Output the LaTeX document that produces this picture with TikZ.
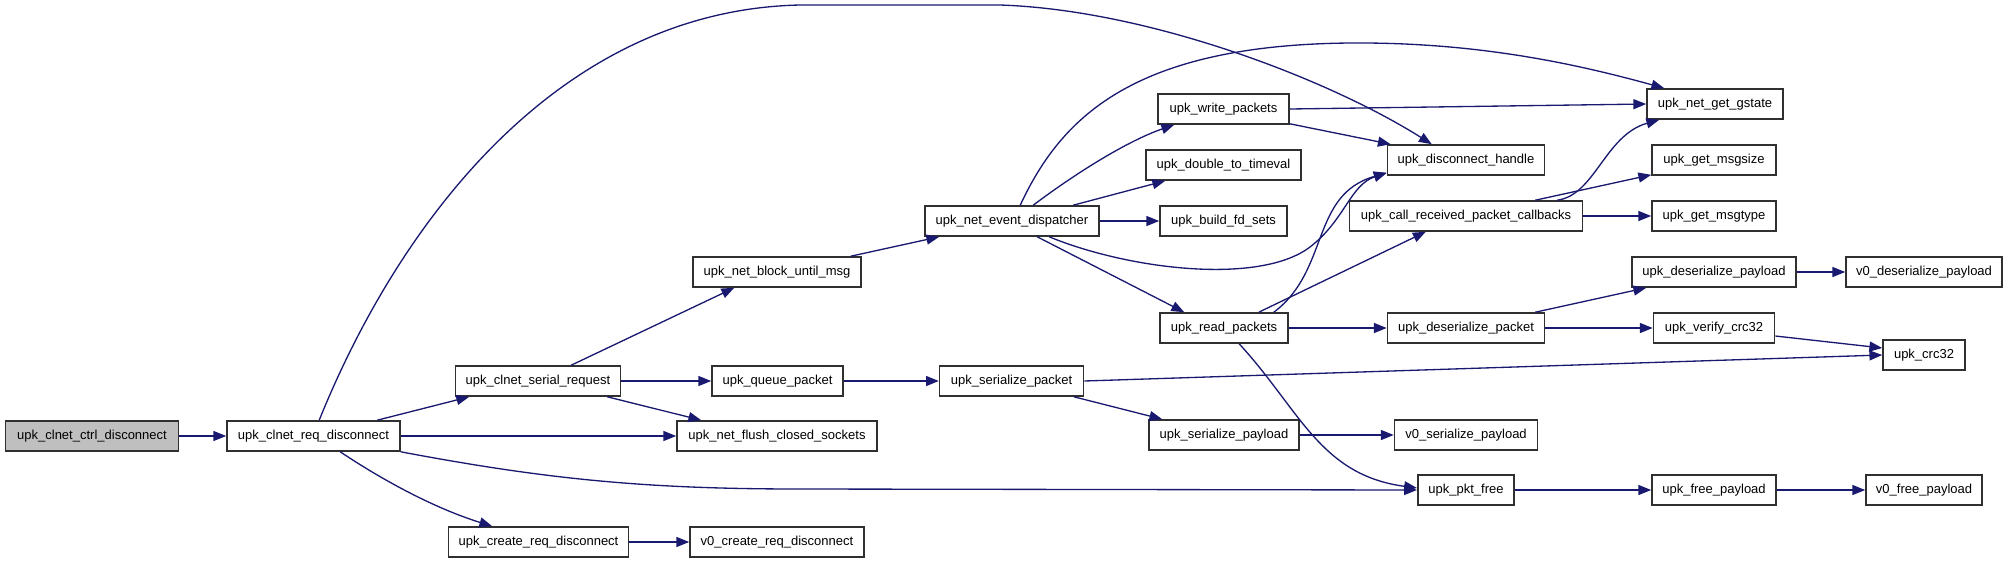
\documentclass[tikz,border=0pt]{standalone}
\usepackage{fontspec}
\setmainfont{Liberation Sans}
\usetikzlibrary{positioning,arrows.meta,calc}
\definecolor{cEdge}{HTML}{191970}
\definecolor{cRoot}{HTML}{BFBFBF}
\definecolor{cLine}{HTML}{303030}
\tikzset{
  cg/fn/.style  ={draw=cLine, line width=0.4mm, fill=white, inner sep=0pt,
                  minimum height=7.5mm, font=\fontsize{9.25}{11}\selectfont},
  cg/root/.style={cg/fn, fill=cRoot},
  cg/wd/.style  ={minimum width=#1*0.25mm},
  cg/call/.style={-{Triangle[length=3.2mm, width=2.5mm]}, line width=0.33mm, cEdge}
}

\begin{document}
\begin{tikzpicture}[x=0.25mm, y=-0.25mm]
    \useasboundingbox (0,0) rectangle (2008,564);

    % --- caller and first level ---
    \node[cg/root, cg/wd=173] (ctrl) at (92,436)   {upk\_clnet\_ctrl\_disconnect};
    \node[cg/fn, cg/wd=173]   (req)  at (313.5,436) {upk\_clnet\_req\_disconnect};

    % --- second level ---
    \node[cg/fn, cg/wd=165] (srq) at (538,381)   {upk\_clnet\_serial\_request};
    \node[cg/fn, cg/wd=180] (crd) at (538.5,542) {upk\_create\_req\_disconnect};

    % --- third level ---
    \node[cg/fn, cg/wd=168] (nbm) at (777,272)   {upk\_net\_block\_until\_msg};
    \node[cg/fn, cg/wd=131] (qp)  at (777.5,381) {upk\_queue\_packet};
    \node[cg/fn, cg/wd=200] (nfc) at (777,436)   {upk\_net\_flush\_closed\_sockets};
    \node[cg/fn, cg/wd=174] (vcr) at (777,542)   {v0\_create\_req\_disconnect};

    % --- fourth level ---
    \node[cg/fn, cg/wd=174] (ned) at (1012,221)   {upk\_net\_event\_dispatcher};
    \node[cg/fn, cg/wd=144] (spk) at (1011.6,381) {upk\_serialize\_packet};

    % --- fifth level ---
    \node[cg/fn, cg/wd=131] (wp)   at (1223.5,109) {upk\_write\_packets};
    \node[cg/fn, cg/wd=155] (d2tv) at (1223.5,165) {upk\_double\_to\_timeval};
    \node[cg/fn, cg/wd=127] (bfd)  at (1223.5,221) {upk\_build\_fd\_sets};
    \node[cg/fn, cg/wd=128] (rp)   at (1224,328)   {upk\_read\_packets};
    \node[cg/fn, cg/wd=150] (spl)  at (1224,435)   {upk\_serialize\_payload};

    % --- sixth level ---
    \node[cg/fn, cg/wd=157]  (dh)    at (1466,160) {upk\_disconnect\_handle};
    \node[cg/fn, cg/wd=233]  (crpc)  at (1466,216) {upk\_call\_received\_packet\_callbacks};
    \node[cg/fn, cg/wd=157]  (dpk)   at (1466,328) {upk\_deserialize\_packet};
    \node[cg/fn, cg/wd=143]  (v0spl) at (1466,435) {v0\_serialize\_payload};
    \node[cg/fn, cg/wd=96.5] (pkf)   at (1466,490) {upk\_pkt\_free};

    % --- seventh level ---
    \node[cg/fn, cg/wd=136] (gst)  at (1715,104) {upk\_net\_get\_gstate};
    \node[cg/fn, cg/wd=124] (gms)  at (1714,160) {upk\_get\_msgsize};
    \node[cg/fn, cg/wd=124] (gmt)  at (1714,216) {upk\_get\_msgtype};
    \node[cg/fn, cg/wd=164] (dpl)  at (1714,272) {upk\_deserialize\_payload};
    \node[cg/fn, cg/wd=121] (vcrc) at (1714,328) {upk\_verify\_crc32};
    \node[cg/fn, cg/wd=124] (fpl)  at (1714,490) {upk\_free\_payload};

    % --- last level ---
    \node[cg/fn, cg/wd=156] (v0dpl) at (1924,272) {v0\_deserialize\_payload};
    \node[cg/fn, cg/wd=82]  (crc)   at (1924,355) {upk\_crc32};
    \node[cg/fn, cg/wd=116] (v0fpl) at (1924,490) {v0\_free\_payload};

    % --- calls from the caller side ---
    \draw[cg/call] (ctrl.east) -- (req.west);
    \draw[cg/call] ($(req.north west)+(151,0)$) -- ($(srq.south west)+(14.5,0)$);
    \draw[cg/call] ($(req.north west)+(93,0)$) .. controls (400,220) and (560,10) .. (800,5)
        -- (1000,5) .. controls (1150,10) and (1330,80) .. ($(dh.north west)+(45,0)$);
    \draw[cg/call] (req.east) -- (nfc.west);
    \draw[cg/call] (req.south east) .. controls (550,480) and (650,489) .. (800,489) -- (pkf.west);
    \draw[cg/call] ($(req.south west)+(114,0)$) .. controls (390,485) and (440,510)
        .. ($(crd.north west)+(44.5,0)$);
    \draw[cg/call] ($(srq.north west)+(116.5,0)$) -- ($(nbm.south west)+(42,0)$);
    \draw[cg/call] (srq.east) -- (qp.west);
    \draw[cg/call] ($(srq.south east)+(-14,0)$) -- ($(nfc.north west)+(25,0)$);
    \draw[cg/call] (crd.east) -- (vcr.west);
    \draw[cg/call] ($(nbm.north east)+(-11,0)$) -- ($(ned.south west)+(15,0)$);
    \draw[cg/call] (qp.east) -- (spk.west);

    % --- event dispatcher ---
    \draw[cg/call] ($(ned.north west)+(109,0)$) .. controls (1080,170) and (1130,140)
        .. ($(wp.south west)+(17,0)$);
    \draw[cg/call] ($(ned.north west)+(96,0)$) .. controls (1060,120) and (1130,45) .. (1350,43)
        .. controls (1480,42) and (1580,65) .. ($(gst.north west)+(18,0)$);
    \draw[cg/call] ($(ned.north east)+(-26.6,0)$) -- ($(d2tv.south west)+(20,0)$);
    \draw[cg/call] (ned.east) -- (bfd.west);
    \draw[cg/call] ($(ned.south west)+(125,0)$) .. controls (1130,270) and (1260,285) .. (1310,247)
        .. controls (1345,220) and (1350,185) .. ($(dh.south west)+(0,-3)$);
    \draw[cg/call] ($(ned.south west)+(113,0)$) -- ($(rp.north west)+(25,0)$);

    % --- packet handling ---
    \draw[cg/call] (wp.east) -- (gst.west);
    \draw[cg/call] ($(wp.south east)+(0,-1)$) -- ($(dh.north west)+(4,0)$);
    \draw[cg/call] ($(rp.north east)+(-15,0)$) .. controls (1330,270) and (1310,195)
        .. ($(dh.south west)+(0,-3)$);
    \draw[cg/call] ($(rp.north east)+(-30,0)$) -- ($(crpc.south west)+(77,0)$);
    \draw[cg/call] (rp.east) -- (dpk.west);
    \draw[cg/call] ($(rp.south west)+(80,0)$) .. controls (1300,410) and (1320,475)
        .. ($(pkf.west)+(0,-2)$);
    \draw[cg/call] ($(crpc.north east)+(-26,0)$) .. controls (1595,195) and (1605,135)
        .. ($(gst.south west)+(13,0)$);
    \draw[cg/call] ($(crpc.north east)+(-48,0)$) -- ($(gms.south west)+(0,-1)$);
    \draw[cg/call] (crpc.east) -- (gmt.west);
    \draw[cg/call] ($(dpk.north east)+(-10,0)$) -- ($(dpl.south west)+(15,0)$);
    \draw[cg/call] (dpk.east) -- (vcrc.west);
    \draw[cg/call] (dpl.east) -- (v0dpl.west);
    \draw[cg/call] ($(vcrc.east)+(0,8)$) -- ($(crc.west)+(0,-7)$);
    \draw[cg/call] (spk.east) -- (crc.west);
    \draw[cg/call] ($(spk.south east)+(-10.5,0)$) -- ($(spl.north west)+(14,0)$);
    \draw[cg/call] (spl.east) -- (v0spl.west);
    \draw[cg/call] (pkf.east) -- (fpl.west);
    \draw[cg/call] (fpl.east) -- (v0fpl.west);
\end{tikzpicture}
\end{document}
